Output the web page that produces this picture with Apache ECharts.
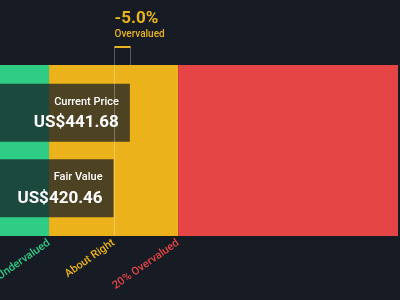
<!DOCTYPE html>
<html>
<head>
<meta charset="utf-8">
<script src="https://cdn.jsdelivr.net/npm/echarts@6/dist/echarts.min.js"></script>
<style>html,body{margin:0;padding:0;background:#161b24;}#c{width:400px;height:300px;}</style>
</head>
<body>
<div id="c"></div>
<script>
// ---- data ----
const categories = ['Current Price', 'Fair Value'];
const values = [441.68, 420.46];
const valueLabels = ['US$441.68', 'US$420.46'];
const axisMin = 272.5;
const axisMax = 791;
const bandStarts = [272.5, 336.37, 504.55];
const bandEnds = [336.37, 504.55, 791];
const bandNames = ['Undervalued', 'About Right', '20% Overvalued'];
const tickValues = [336.37, 420.46, 504.55];
const annotation = ['-5.0%', 'Overvalued'];

const bandColors = ['#2ecc85', '#ecb21b', '#e64545'];
const richKeys = ['g', 'y', 'r'];
const gold = '#e9b420';

const chart = echarts.init(document.getElementById('c'), null, {renderer: 'canvas'});

const bandData = bandStarts.map((s, i) => [s, bandEnds[i], i]);

const option = {
  backgroundColor: '#161b24',
  animation: false,
  textStyle: {fontFamily: 'Roboto'},
  grid: [
    {left: 0, right: 2, top: 65, bottom: 64, outerBoundsMode: 'none', containLabel: false},
    {left: 0, right: 2, top: 75, height: 151, outerBoundsMode: 'none', containLabel: false},
    {left: 0, right: 2, top: 47, height: 18, outerBoundsMode: 'none', containLabel: false}
  ],
  xAxis: [
    {
      gridIndex: 0, type: 'value', min: axisMin, max: axisMax,
      splitLine: {show: false}, axisLine: {show: false}, axisTick: {show: false},
      axisLabel: {
        customValues: tickValues,
        rotate: 35,
        margin: 6,
        fontSize: 11,
        fontFamily: 'Roboto',
        formatter: function (v) {
          let idx = 0, best = Infinity;
          tickValues.forEach((t, i) => { const d = Math.abs(t - v); if (d < best) { best = d; idx = i; } });
          return '{' + richKeys[idx] + '|' + bandNames[idx] + '}';
        },
        rich: {
          g: {color: bandColors[0], fontSize: 11, fontWeight: 500, fontFamily: 'Roboto'},
          y: {color: bandColors[1], fontSize: 11, fontWeight: 500, fontFamily: 'Roboto'},
          r: {color: bandColors[2], fontSize: 11, fontWeight: 500, fontFamily: 'Roboto'}
        }
      }
    },
    {gridIndex: 1, type: 'value', min: axisMin, max: axisMax, show: false},
    {gridIndex: 2, type: 'value', min: axisMin, max: axisMax, show: false}
  ],
  yAxis: [
    {gridIndex: 0, type: 'value', min: 0, max: 1, show: false},
    {gridIndex: 1, type: 'category', data: categories, inverse: true, show: false},
    {gridIndex: 2, type: 'value', min: 0, max: 1, show: false}
  ],
  series: [
    {
      type: 'custom',
      xAxisIndex: 0, yAxisIndex: 0,
      data: bandData,
      z: 1,
      silent: true,
      renderItem: function (params, api) {
        const p0 = api.coord([api.value(0), 1]);
        const p1 = api.coord([api.value(1), 0]);
        return {
          type: 'rect',
          shape: {x: p0[0], y: p0[1], width: p1[0] - p0[0], height: p1[1] - p0[1]},
          style: {fill: bandColors[api.value(2)]}
        };
      }
    },
    {
      // fair value guide line through the bands
      type: 'custom',
      xAxisIndex: 0, yAxisIndex: 0,
      data: [[values[1]]],
      z: 6,
      silent: true,
      renderItem: function (params, api) {
        const a = api.coord([api.value(0), 1]);
        const b = api.coord([api.value(0), 0]);
        const x = Math.round(a[0]) + 0.5;
        return {type: 'line', shape: {x1: x, y1: a[1], x2: x, y2: b[1]},
                style: {stroke: 'rgba(255,255,255,0.28)', lineWidth: 1}};
      }
    },
    {
      type: 'bar',
      xAxisIndex: 1, yAxisIndex: 1,
      data: values,
      barWidth: 58,
      z: 3,
      clip: false,
      itemStyle: {color: 'rgba(22,27,36,0.74)'},
      label: {
        show: true,
        position: 'insideRight',
        distance: 11,
        formatter: function (p) {
          return '{n|' + p.name + '}\n{v|' + valueLabels[p.dataIndex] + '}';
        },
        rich: {
          n: {fontSize: 11, fontWeight: 500, color: '#ffffff', lineHeight: 20, align: 'right', fontFamily: 'Roboto'},
          v: {fontSize: 17, fontWeight: 'bold', color: '#ffffff', lineHeight: 22, align: 'right', fontFamily: 'Roboto'}
        }
      }
    },
    {
      type: 'custom',
      xAxisIndex: 2, yAxisIndex: 2,
      data: [[values[1], values[0]]],
      z: 5,
      silent: true,
      renderItem: function (params, api) {
        const a = api.coord([api.value(0), 1]);
        const b = api.coord([api.value(1), 0]);
        const x0 = Math.round(a[0]) + 0.5;
        const x1 = Math.round(b[0]) + 0.5;
        const top = a[1];
        const bottom = b[1];
        return {
          type: 'group',
          children: [
            {type: 'polyline', shape: {points: [[x0, bottom], [x0, top], [x1, top], [x1, bottom]]},
             style: {fill: null, stroke: 'rgba(255,255,255,0.28)', lineWidth: 1}},
            {type: 'line', shape: {x1: x0, y1: top, x2: x1, y2: top},
             style: {stroke: gold, lineWidth: 2}},
            {type: 'text', x: x0, y: top - 28,
             style: {text: annotation[0], fill: gold, font: 'bold 17px Roboto', align: 'left', verticalAlign: 'middle'}},
            {type: 'text', x: x0, y: top - 12.5,
             style: {text: annotation[1], fill: gold, font: '500 10px Roboto', align: 'left', verticalAlign: 'middle'}}
          ]
        };
      }
    }
  ]
};
chart.setOption(option);
</script>
</body>
</html>
